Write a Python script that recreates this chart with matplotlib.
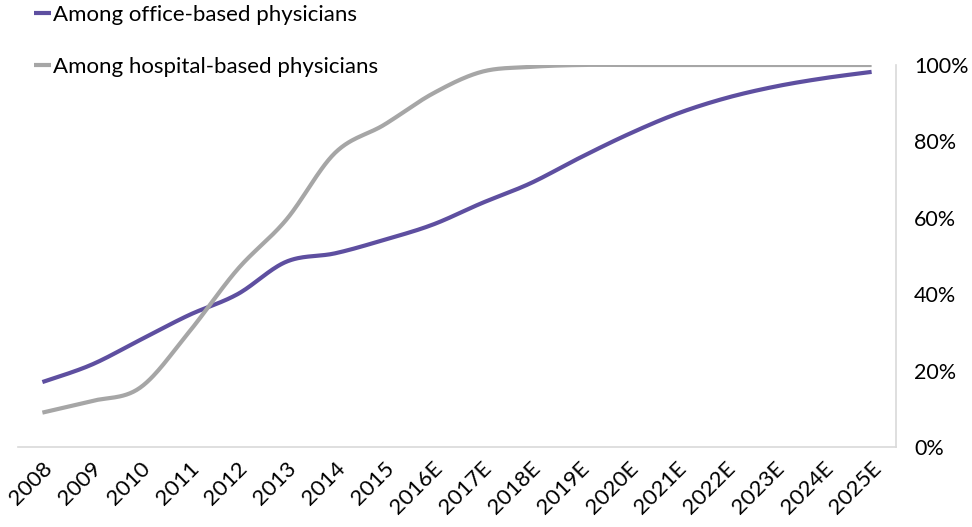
import numpy as np
import matplotlib.pyplot as plt
from matplotlib.ticker import PercentFormatter

plt.rcParams['font.family'] = ['Lato', 'DejaVu Sans']

# share of physicians using EHR, by year
years = ['2008', '2009', '2010', '2011', '2012', '2013', '2014', '2015', '2016E',
         '2017E', '2018E', '2019E', '2020E', '2021E', '2022E', '2023E', '2024E', '2025E']
office = [0.17, 0.215, 0.28, 0.345, 0.40, 0.485, 0.507, 0.542, 0.582, 0.638,
          0.69, 0.756, 0.818, 0.872, 0.913, 0.943, 0.965, 0.982]
hospital = [0.09, 0.12, 0.155, 0.30, 0.465, 0.595, 0.77, 0.843, 0.925, 0.982,
            0.995, 1.0, 1.0, 1.0, 1.0, 1.0, 1.0, 1.0]

office_color = '#5E4FA0'
hospital_color = '#A6A6A6'


def smooth(y, n=30):
    # cubic bezier through each point, like a spreadsheet "smoothed line"
    y = np.asarray(y, dtype=float)
    x = np.arange(len(y), dtype=float)
    pts = np.column_stack([x, y])
    ext = np.vstack([pts[0], pts, pts[-1]])
    out = [pts[:1]]
    t = np.linspace(0, 1, n)[1:, None]
    for i in range(len(pts) - 1):
        p0, p1, p2, p3 = ext[i], ext[i + 1], ext[i + 2], ext[i + 3]
        c1 = p1 + (p2 - p0) / 6
        c2 = p2 - (p3 - p1) / 6
        seg = ((1 - t) ** 3) * p1 + 3 * ((1 - t) ** 2) * t * c1 \
            + 3 * (1 - t) * t ** 2 * c2 + t ** 3 * p2
        out.append(seg)
    out = np.vstack(out)
    return out[:, 0], out[:, 1]


fig = plt.figure(figsize=(9.72, 5.27), dpi=100)
ax = fig.add_axes([18 / 972, 1 - 447 / 527, (896 - 18) / 972, (447 - 65) / 527])

xs, ys = smooth(office)
ax.plot(xs, ys, color=office_color, lw=3, solid_capstyle='butt',
        label='Among office-based physicians')
xs, ys = smooth(hospital)
ax.plot(xs, ys, color=hospital_color, lw=3, solid_capstyle='butt',
        label='Among hospital-based physicians')

ax.set_xlim(-0.5, len(years) - 0.5)
ax.set_ylim(0, 1)
ax.set_xticks(range(len(years)))
ax.set_xticklabels(years, rotation=45, ha='right', rotation_mode='anchor')
ax.set_yticks(np.arange(0, 1.01, 0.2))
ax.yaxis.set_major_formatter(PercentFormatter(1.0, decimals=0))
ax.yaxis.tick_right()
ax.tick_params(axis='both', length=0, labelsize=16, colors='black')
ax.tick_params(axis='y', pad=13, labelsize=15.5)
ax.tick_params(axis='x', pad=8)

for side in ['top', 'left']:
    ax.spines[side].set_visible(False)
for side in ['bottom', 'right']:
    ax.spines[side].set_color('#D9D9D9')
    ax.spines[side].set_linewidth(1.2)

leg = fig.legend(loc='upper left', bbox_to_anchor=(34 / 972, 1 - 5 / 527),
                 frameon=False, fontsize=16, handlelength=0.75, handletextpad=0.1,
                 labelspacing=1.45, borderaxespad=0, borderpad=0)

fig.savefig('out.png', dpi=100)
